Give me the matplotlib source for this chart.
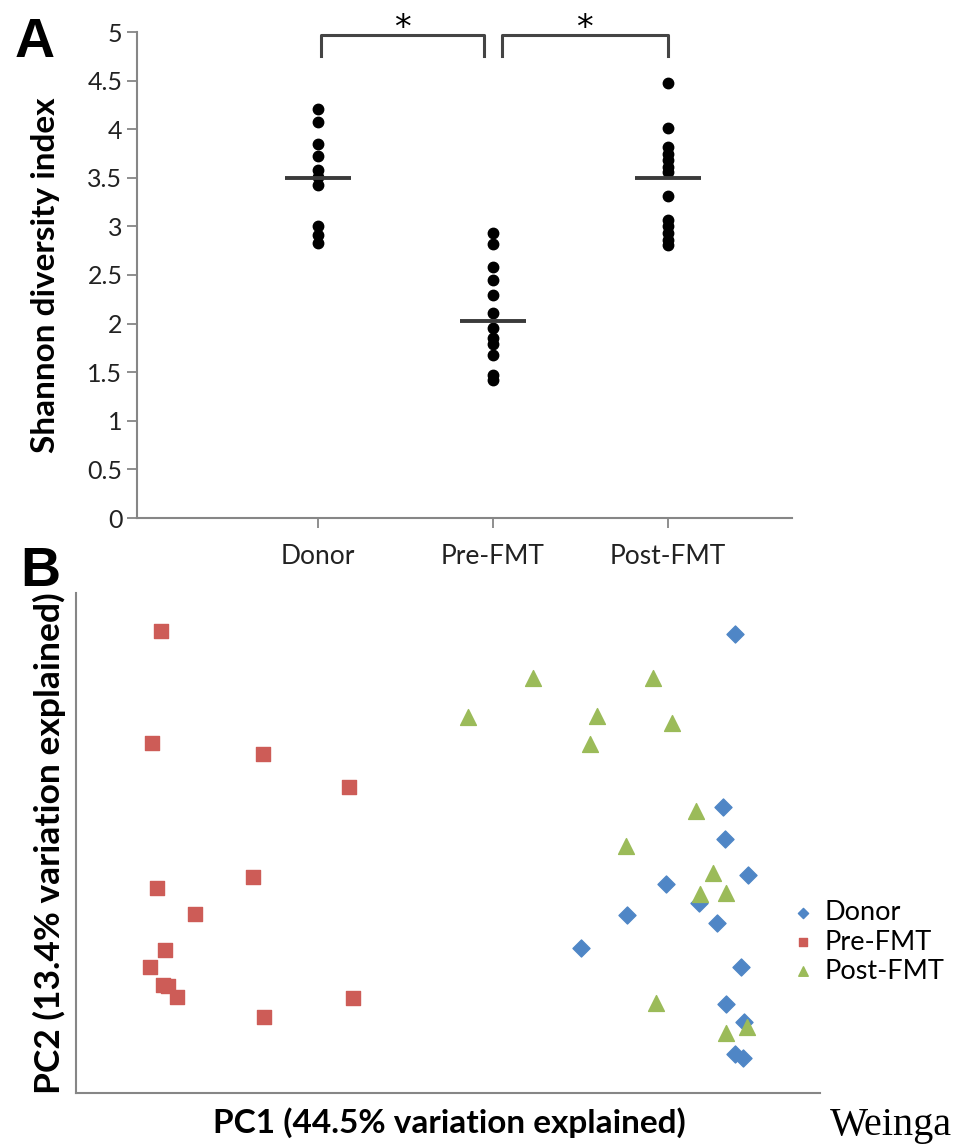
import matplotlib
matplotlib.use("Agg")
import matplotlib.pyplot as plt

# ---- panel A data (Shannon diversity) ----
groups = ["Donor", "Pre-FMT", "Post-FMT"]
donor_div = [4.21, 4.07, 3.85, 3.72, 3.58, 3.51, 3.43, 3.0, 2.91, 2.83]
pre_div = [2.93, 2.82, 2.58, 2.45, 2.29, 2.11, 1.95, 1.85, 1.79, 1.68, 1.47, 1.42]
post_div = [4.48, 4.01, 3.82, 3.75, 3.68, 3.61, 3.56, 3.31, 3.07, 3.0, 2.93, 2.86, 2.81]
group_means = [3.5, 2.03, 3.5]
sig_pairs = [(0, 1, "*"), (1, 2, "*")]

# ---- panel B data (PCoA) ----
donor_pc1 = [2.85, 2.73, 2.75, 2.98, 2.16, 2.49, 1.77, 2.67, 1.31, 2.91, 2.76, 2.94, 2.85, 2.93]
donor_pc2 = [2.16, 0.43, 0.11, -0.25, -0.34, -0.53, -0.65, -0.73, -0.98, -1.17, -1.54, -1.72, -2.04, -2.08]
pre_pc1 = [-2.89, -2.98, -1.87, -1.01, -1.97, -2.93, -2.55, -2.85, -3.0, -2.87, -2.82, -2.73, -0.97, -1.86]
pre_pc2 = [2.19, 1.07, 0.96, 0.63, -0.27, -0.38, -0.64, -1.0, -1.17, -1.35, -1.36, -1.47, -1.48, -1.67]
post_pc1 = [0.83, 2.03, 0.18, 1.47, 2.22, 1.4, 2.46, 1.76, 2.63, 2.5, 2.76, 2.06, 2.97, 2.76]
post_pc2 = [1.72, 1.72, 1.33, 1.34, 1.27, 1.06, 0.39, 0.04, -0.23, -0.44, -0.43, -1.53, -1.77, -1.83]

plt.rcParams['font.family'] = ['Lato', 'DejaVu Sans']
grey = "#868686"

fig = plt.figure(figsize=(9.55, 11.44), dpi=100)

# ---------------- panel A ----------------
ax = fig.add_axes([137/955, 626/1144, (792-137)/955, 486/1144])
for i, vals in enumerate([donor_div, pre_div, post_div]):
    ax.plot([i]*len(vals), vals, 'o', color='black', ms=7.5, mec='black')
    ax.plot([i-0.19, i+0.19], [group_means[i]]*2, color='#3a3a3a', lw=2.8, solid_capstyle='butt')

for a, b, lab in sig_pairs:
    x0, x1 = a + 0.02, b - 0.05
    if a > 0:
        x0 = a + 0.05
        x1 = b
    ax.plot([x0, x0, x1, x1], [4.75, 4.97, 4.97, 4.75], color='#444444', lw=2.2, clip_on=False)
    ax.text((x0+x1)/2, 4.87, lab, ha='center', va='bottom', fontsize=24, family='DejaVu Sans')

ax.set_xlim(-1.034, 2.709)
ax.set_ylim(0, 5)
ax.set_yticks([0, 0.5, 1, 1.5, 2, 2.5, 3, 3.5, 4, 4.5, 5])
ax.set_yticklabels(["0", "0.5", "1", "1.5", "2", "2.5", "3", "3.5", "4", "4.5", "5"])
ax.set_xticks([0, 1, 2])
ax.set_xticklabels(groups)
ax.tick_params(axis='both', colors=grey, labelcolor='#222222', labelsize=18, length=7, width=1.3)
ax.tick_params(axis='x', labelsize=19, pad=12)
for s in ['top', 'right']:
    ax.spines[s].set_visible(False)
for s in ['left', 'bottom']:
    ax.spines[s].set_color(grey)
    ax.spines[s].set_linewidth(1.5)
ax.set_ylabel("Shannon diversity index", fontsize=24, fontweight='bold')
ax.yaxis.set_label_coords(-(137-60)/655, 0.5)

fig.text(15/955, 1-43/1144, "A", fontsize=40, fontweight='bold', family='Liberation Sans', va='center')

# ---------------- panel B ----------------
bx = fig.add_axes([76/955, (1144-1093)/1144, (820-76)/955, (1093-593)/1144])
bx.scatter(donor_pc1, donor_pc2, marker='D', s=75, color='#4F86C6', label='Donor', zorder=3)
bx.scatter(pre_pc1, pre_pc2, marker='s', s=110, color='#CD5C57', label='Pre-FMT', zorder=2)
bx.scatter(post_pc1, post_pc2, marker='^', s=130, color='#9BBB59', label='Post-FMT', zorder=4)
bx.set_xlim(-3.74, 3.70)
bx.set_ylim(-2.43, 2.57)
bx.set_xticks([])
bx.set_yticks([])
for s in ['top', 'right']:
    bx.spines[s].set_visible(False)
for s in ['left', 'bottom']:
    bx.spines[s].set_color(grey)
    bx.spines[s].set_linewidth(1.5)
bx.set_xlabel("PC1 (44.5% variation explained)", fontsize=24, fontweight='bold')
bx.xaxis.set_label_coords(0.502, -(1107-1093)/500)
bx.set_ylabel("PC2 (13.4% variation explained)", fontsize=25.5, fontweight='bold')
bx.yaxis.set_label_coords(-(76-66)/744, 0.5)
bx.legend(loc='center left', bbox_to_anchor=(776/955, 1-942/1144), bbox_transform=fig.transFigure,
          frameon=False, fontsize=19.5, handletextpad=0.3, labelspacing=0.15, markerscale=0.6,
          borderpad=0, handlelength=1.0)

fig.text(20/955, 1-572/1144, "B", fontsize=40, fontweight='bold', family='Liberation Sans', va='center')
fig.text(830/955, 1-1126/1144, "Weinga", fontsize=29, family='Liberation Serif', va='center')

plt.savefig("out.png", dpi=100)
